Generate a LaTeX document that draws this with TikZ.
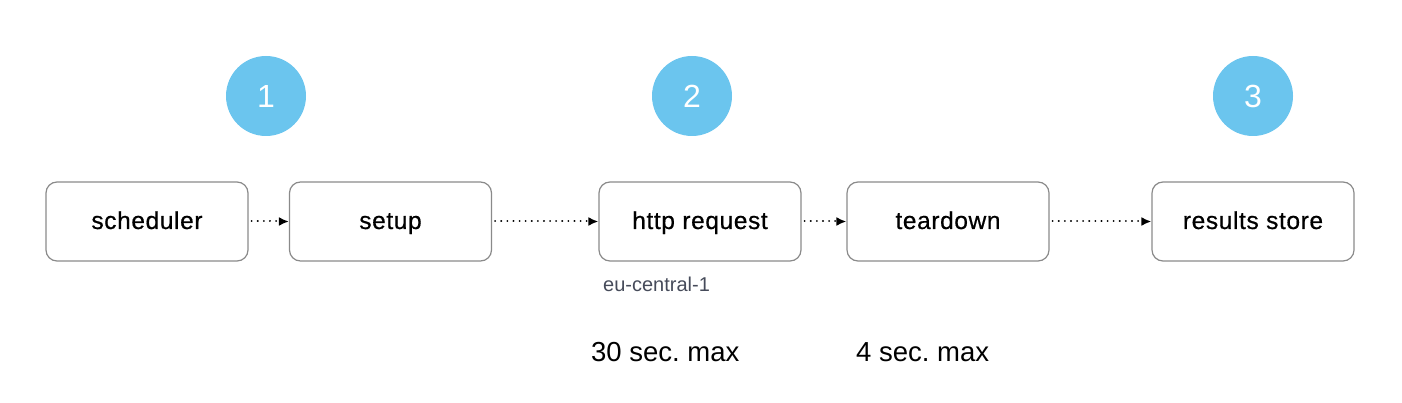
\documentclass[tikz,border=0pt]{standalone}
\usepackage{fontspec}
\setmainfont{Liberation Sans}
\newfontfamily\boxfont[LetterSpace=2.5,FakeBold=0.6]{Liberation Sans}
\usetikzlibrary{arrows.meta}
\definecolor{circ}{HTML}{6BC5EE}
\definecolor{boxline}{HTML}{8A8A8A}
\definecolor{subtext}{HTML}{464B5A}
\begin{document}
\begin{tikzpicture}[x=1pt,y=-1pt,
  stepbox/.style={draw=boxline, line width=1.2pt, rounded corners=11pt, minimum width=202pt, minimum height=79pt, inner sep=0pt, text height=20pt, text depth=5pt, font=\boxfont\fontsize{24.5}{30}\selectfont},
  numcirc/.style={circle, fill=circ, minimum size=80pt, inner sep=0pt, text=white, font=\fontsize{32}{36}\selectfont},
  flow/.style={line width=2pt, dash pattern=on 0.1pt off 6pt, line cap=round, shorten <=3pt, -{Latex[length=10pt,width=9pt]}},
  note/.style={font=\fontsize{27.5}{32}\selectfont, anchor=base west}]
\useasboundingbox (0,0) rectangle (1402,403);
\node[stepbox] (sched) at (147,221.5) {scheduler};
\node[stepbox] (setup) at (390.5,221.5) {setup};
\node[stepbox] (http) at (700,221.5) {http request};
\node[stepbox] (tear) at (948,221.5) {teardown};
\node[stepbox] (store) at (1253,221.5) {results store};
\node[numcirc] (c1) at (266,96) {1};
\node[numcirc] (c2) at (692,96) {2};
\node[numcirc] (c3) at (1253,96) {3};
\node[font=\fontsize{20}{23}\selectfont, text=subtext, anchor=base west, inner sep=0pt] (eu) at (603,291) {eu-central-1};
\node[note, inner sep=0pt] (t30) at (591,361) {30 sec.\ max};
\node[note, inner sep=0pt] (t4) at (856,361) {4 sec.\ max};
\draw[flow] (sched) -- (setup);
\draw[flow] (setup) -- (http);
\draw[flow] (http) -- (tear);
\draw[flow] (tear) -- (store);
\end{tikzpicture}
\end{document}
